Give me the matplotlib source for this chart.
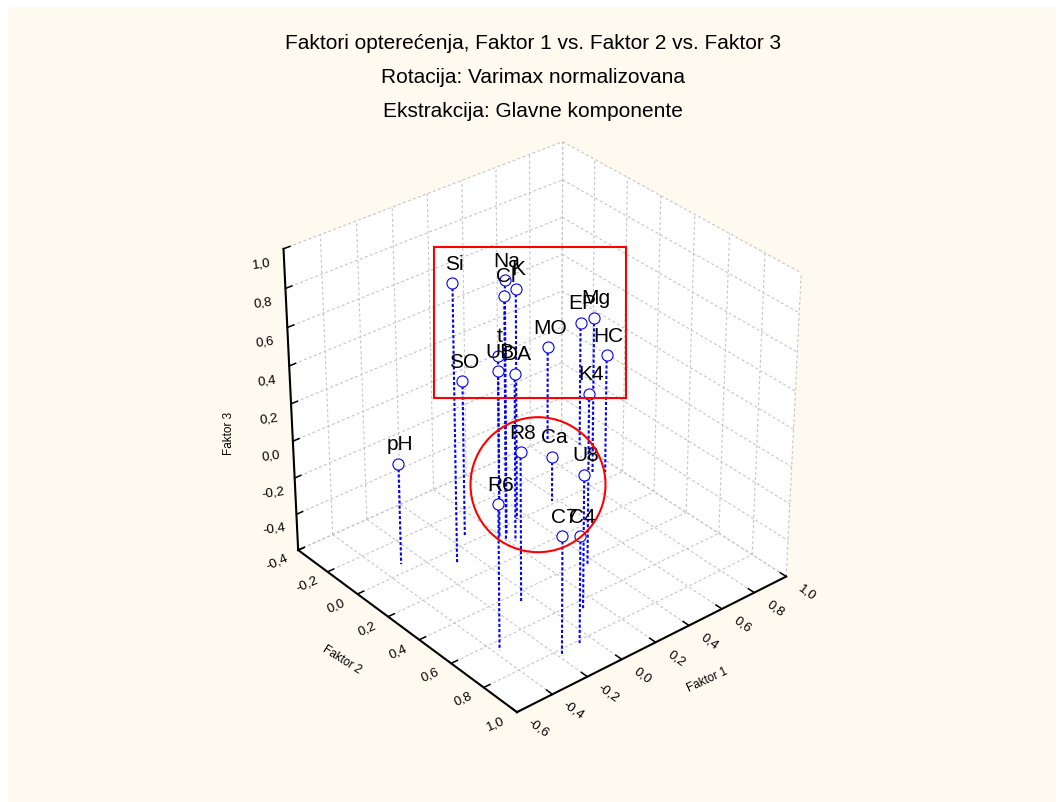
import matplotlib
matplotlib.use('Agg')
import matplotlib.pyplot as plt
from matplotlib.patches import Rectangle, Ellipse
from matplotlib.transforms import IdentityTransform
from mpl_toolkits.mplot3d import proj3d
from mpl_toolkits.mplot3d.art3d import Poly3DCollection

plt.rcParams['font.family'] = ['Liberation Sans', 'DejaVu Sans']

W, H = 1062, 803

# factor loadings
names = ['Si', 'Na', 'Cl', 'K', 'EP', 'Mg', 'MO', 'HC', 't', 'UB',
         'DA', 'SO', 'K4', 'R8', 'Ca', 'U8', 'R6', 'C7', 'C4', 'pH']
faktor1 = [-0.102, 0.230, 0.191, 0.347, 0.995, 0.885, 0.898, 0.932, 0.390, 0.194,
           0.225, 0.074, 0.362, -0.066, 0.573, 0.116, -0.373, -0.188, -0.065, -0.301]
faktor2 = [0.090, 0.050, 0.088, -0.008, -0.275, -0.078, -0.387, -0.044, -0.170, 0.043,
           0.113, -0.053, 0.425, 0.458, -0.018, 0.650, 0.652, 0.836, 0.815, -0.054]
faktor3 = [0.893, 0.767, 0.719, 0.649, 0.091, 0.260, -0.068, 0.058, 0.194, 0.303,
           0.313, 0.245, 0.323, 0.209, -0.351, 0.124, 0.179, 0.042, -0.024, -0.049]

x_ticks = [-0.6, -0.4, -0.2, 0.0, 0.2, 0.4, 0.6, 0.8, 1.0]
y_ticks = [-0.4, -0.2, 0.0, 0.2, 0.4, 0.6, 0.8, 1.0]
z_ticks = [-0.6, -0.4, -0.2, 0.0, 0.2, 0.4, 0.6, 0.8, 1.0]
z_labelled = z_ticks[1:]

title_lines = ['Faktori opterećenja, Faktor 1 vs. Faktor 2 vs. Faktor 3',
               'Rotacija: Varimax normalizovana',
               'Ekstrakcija: Glavne komponente']

CREAM = '#FFFAF0'
GRID = '#c6c6c6'
BLUE = '#0000ff'

fig = plt.figure(figsize=(W / 100, H / 100), dpi=100, facecolor='white')
fig.add_artist(Rectangle((8, 0), W - 14, H - 8, transform=IdentityTransform(),
                         facecolor=CREAM, edgecolor='none', zorder=-5))

ax = fig.add_axes([0, 0, 1, 1], projection='3d', computed_zorder=False)
x0, x1 = x_ticks[0], x_ticks[-1]
y0, y1 = y_ticks[0], y_ticks[-1]
z0, z1 = z_ticks[0], z_ticks[-1]
ax.set_xlim(x0, x1)
ax.set_ylim(y1, y0)  # Faktor 2 grows towards the viewer
ax.set_zlim(z0, z1)
ax.view_init(elev=32.16, azim=-129.69)
ax.set_proj_type('persp', focal_length=0.992)
ax.set_box_aspect((0.998, 1.002, 1.0))
ax.set_axis_off()
ax.patch.set_visible(False)

# place the square axes so that the cube lands where it is in the picture
scale, shift_x, shift_y = 3243.63, 540.7, 417.48
(vx0, vy0), (vx1, vy1) = ax.viewLim.get_points()
side = scale * (vx1 - vx0)
ax.set_position([(shift_x + scale * vx0) / W,
                 (H - (shift_y - scale * vy0)) / H,
                 side / W, side / H])

# walls and floor
walls = [[(x0, y0, z0), (x1, y0, z0), (x1, y1, z0), (x0, y1, z0)],
         [(x0, y0, z0), (x1, y0, z0), (x1, y0, z1), (x0, y0, z1)],
         [(x1, y0, z0), (x1, y1, z0), (x1, y1, z1), (x1, y0, z1)]]
ax.add_collection3d(Poly3DCollection(walls, facecolor='white', edgecolor='none', zorder=1))

grid_kw = dict(color=GRID, lw=0.8, ls=(0, (2.6, 2.2)), zorder=2)
for x in x_ticks:
    ax.plot([x, x], [y0, y1], [z0, z0], **grid_kw)
    ax.plot([x, x], [y0, y0], [z0, z1], **grid_kw)
for y in y_ticks:
    ax.plot([x0, x1], [y, y], [z0, z0], **grid_kw)
    ax.plot([x1, x1], [y, y], [z0, z1], **grid_kw)
for z in z_ticks:
    ax.plot([x0, x1], [y0, y0], [z, z], **grid_kw)
    ax.plot([x1, x1], [y0, y1], [z, z], **grid_kw)

# axes and tick marks
axis_kw = dict(color='black', lw=1.5, zorder=3, solid_capstyle='projecting')
ax.plot([x0, x0], [y0, y0], [z0, z1], **axis_kw)
ax.plot([x0, x0], [y0, y1], [z0, z0], **axis_kw)
ax.plot([x0, x1], [y1, y1], [z0, z0], **axis_kw)
tick_len = 0.035
tick_kw = dict(color='black', lw=1.1, zorder=3)
for z in z_ticks:
    ax.plot([x0, x0 + tick_len], [y0, y0], [z, z], **tick_kw)
for y in y_ticks:
    ax.plot([x0, x0 + tick_len], [y, y], [z0, z0], **tick_kw)
for x in x_ticks:
    ax.plot([x, x], [y1, y1 - tick_len], [z0, z0], **tick_kw)


def comma(v):
    return ('%.1f' % v).replace('.', ',')


def text3d(x, y, z, label, dx, dy, rot=0, size=9.5):
    # project the point, then hang the label on it with a pixel offset
    u, v, _ = proj3d.proj_transform(x, y, z, ax.get_proj())
    ax.annotate(label, xy=(u, v), xycoords='data', xytext=(dx, dy), textcoords='offset pixels',
                rotation=rot, fontsize=size, ha='center', va='center', rotation_mode='anchor',
                annotation_clip=False, zorder=6)


for z in z_labelled:
    text3d(x0, y0, z, comma(z), -22, -14, 8)
for y in y_ticks:
    text3d(x0, y, z0, comma(y), -21, -11, 24)
for x in x_ticks:
    text3d(x, y1, z0, comma(x), 21, -15, -36)

# droplines, markers, labels
for x, y, z in zip(faktor1, faktor2, faktor3):
    ax.plot([x, x], [y, y], [z, z0], color=BLUE, lw=1.5, ls=(0, (1.5, 1.0)), zorder=4)
ax.plot(faktor1, faktor2, faktor3, ls='none', marker='o', ms=8, mfc='white',
        mec=BLUE, mew=0.8, zorder=5)
for x, y, z, name in zip(faktor1, faktor2, faktor3, names):
    text3d(x, y, z, name, 2, 20, size=15)

# titles and axis names
for line, base in zip(title_lines, (49, 83, 117)):
    fig.text(533 / W, 1 - base / H, line, fontsize=15, ha='center', va='baseline')
fig.text(707 / W, 1 - 680 / H, 'Faktor 1', fontsize=8.5, rotation=25, ha='center', va='center')
fig.text(342 / W, 1 - 660 / H, 'Faktor 2', fontsize=8.5, rotation=-32, ha='center', va='center')
fig.text(229 / W, 1 - 433 / H, 'Faktor 3', fontsize=8.5, rotation=90, ha='center', va='center')

# hand drawn marks on top of the plot
fig.add_artist(Rectangle((434, H - 398.5), 192, 150.5, transform=IdentityTransform(),
                         facecolor='none', edgecolor='#ff0000', lw=1.5, zorder=8))
fig.add_artist(Ellipse((538, H - 485.7), 135, 135, transform=IdentityTransform(),
                       facecolor='none', edgecolor='#ff0000', lw=1.5, zorder=8))

fig.savefig('out.png', dpi=100, facecolor=fig.get_facecolor())
